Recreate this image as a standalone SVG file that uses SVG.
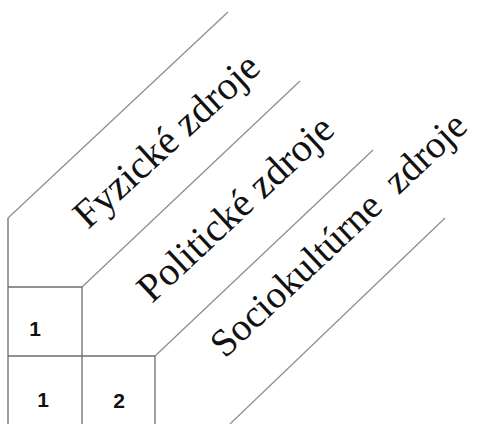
<svg xmlns="http://www.w3.org/2000/svg" width="483" height="424" viewBox="0 0 483 424">
<style>
.ln{stroke:#8c8c8c;stroke-width:1.2;fill:none}
.cell{stroke:#6e6e6e;stroke-width:1.3;fill:none}
.lbl{font-family:"Liberation Serif","Times New Roman",serif;font-size:40px;fill:#111}
.num{font-family:"Liberation Sans",Arial,sans-serif;font-weight:bold;font-size:21px;fill:#111;text-anchor:middle}
</style>
<rect width="483" height="424" fill="#fff"/>
<g id="connectors">
<line class="ln" x1="8" y1="218" x2="228" y2="12"/>
<line class="ln" x1="82" y1="287" x2="300" y2="81"/>
<line class="ln" x1="155" y1="356" x2="373" y2="150"/>
<line class="ln" x1="230" y1="424" x2="445" y2="218"/>
<path class="cell" d="M8 218V424M82 287V424M155 356V424M8 287H82M8 356H155"/>
</g>
<g id="fyzicke"><text class="lbl" transform="translate(88,230) rotate(-42.5)">Fyzické zdroje</text></g>
<g id="politicke"><text class="lbl" transform="translate(152,304) rotate(-43)">Politické zdroje</text></g>
<g id="sociokulturne"><text class="lbl" style="font-size:39px" transform="translate(225,359) rotate(-43.3)" xml:space="preserve">Sociokultúrne  zdroje</text></g>
<g id="cell-1a"><text class="num" x="35" y="336">1</text></g>
<g id="cell-1b"><text class="num" x="43" y="407">1</text></g>
<g id="cell-2"><text class="num" x="119" y="408">2</text></g>
</svg>
